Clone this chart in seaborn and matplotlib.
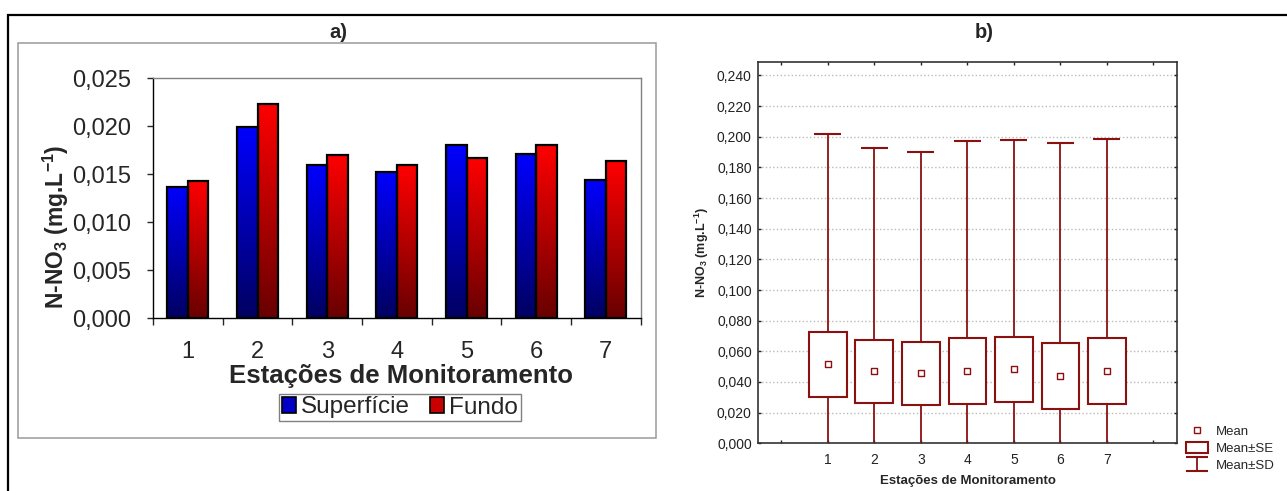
import numpy as np
import pandas as pd
import matplotlib
matplotlib.use('Agg')
import matplotlib.pyplot as plt
import seaborn as sns
from matplotlib.colors import LinearSegmentedColormap
from matplotlib.patches import Rectangle, Patch
from matplotlib.lines import Line2D
from matplotlib.ticker import FuncFormatter

# --- dados painel a) ---
estacoes = ['1', '2', '3', '4', '5', '6', '7']
camadas = ['Superfície', 'Fundo']
superficie = [0.0137, 0.0199, 0.0159, 0.0152, 0.0180, 0.0171, 0.0144]
fundo = [0.0143, 0.0223, 0.0170, 0.0159, 0.0167, 0.0180, 0.0164]

# --- dados painel b) (media, erro padrao, desvio padrao) ---
media = [0.0515, 0.0471, 0.0456, 0.0471, 0.0483, 0.0439, 0.0471]
erro_padrao = [0.0213, 0.0206, 0.0205, 0.0213, 0.0213, 0.0215, 0.0213]
desvio_padrao = [0.1502, 0.1455, 0.1448, 0.1503, 0.1497, 0.1522, 0.1514]

sns.set_style('white')
plt.rcParams['font.family'] = ['Liberation Sans', 'DejaVu Sans']
plt.rcParams['mathtext.default'] = 'regular'

W, H = 1287, 491
fig = plt.figure(figsize=(W / 100, H / 100), dpi=100)


def fx(x):
    return x / W


def fy(y):
    return 1 - y / H


virgula = FuncFormatter(lambda v, p: f'{v:.3f}'.replace('.', ','))

# moldura externa e caixa cinza do painel a)
fig.add_artist(Rectangle((fx(8.3), fy(700)), fx(1500), (700 - 15) / H, fill=False,
                         ec='black', lw=1.6, transform=fig.transFigure, clip_on=False))
fig.add_artist(Rectangle((fx(18), fy(438)), fx(656 - 18), (438 - 43) / H, fill=False,
                         ec='#9A9A9A', lw=1.1, transform=fig.transFigure))

# ---------------------------------------------------------
# a) barras com gradiente
# ---------------------------------------------------------
ax_a = fig.add_axes([fx(153), fy(318.3), fx(640.7 - 153), (318.3 - 78) / H])
df_a = pd.DataFrame({
    'estacao': estacoes * 2,
    'camada': [camadas[0]] * len(estacoes) + [camadas[1]] * len(estacoes),
    'valor': superficie + fundo,
})
sns.barplot(data=df_a, x='estacao', y='valor', hue='camada', palette=['#0000C0', '#C00000'],
            width=0.585, edgecolor='black', linewidth=1.6, errorbar=None, legend=False,
            saturation=1, ax=ax_a)

cmap_azul = LinearSegmentedColormap.from_list('azul', ['#000060', '#0000FF'])
cmap_verm = LinearSegmentedColormap.from_list('verm', ['#680000', '#FF0000'])
grad = np.linspace(0, 1, 256).reshape(-1, 1)
for cont, cm in zip(ax_a.containers, [cmap_azul, cmap_verm]):
    for bar in cont:
        x0, y0 = bar.get_x(), bar.get_y()
        w, h = bar.get_width(), bar.get_height()
        ax_a.imshow(grad, cmap=cm, extent=[x0, x0 + w, y0, y0 + h], origin='lower',
                    aspect='auto', zorder=2.5)
        bar.set_facecolor('none')
        bar.set_zorder(3)

ax_a.set_xlim(-0.5, 6.5)
ax_a.set_ylim(0, 0.025)
ax_a.set_yticks(np.arange(0, 0.0251, 0.005))
ax_a.yaxis.set_major_formatter(virgula)
ax_a.set_xticks(np.arange(-0.5, 7, 1), minor=True)
ax_a.tick_params(axis='y', direction='out', length=4.5, width=1, pad=11, labelsize=17, left=True)
ax_a.tick_params(axis='x', which='major', length=0, pad=16, labelsize=17)
ax_a.tick_params(axis='x', which='minor', direction='out', length=5, width=1, bottom=True)
for s in ['top', 'right']:
    ax_a.spines[s].set_color('#808080')
    ax_a.spines[s].set_linewidth(1)
for s in ['left', 'bottom']:
    ax_a.spines[s].set_color('black')
    ax_a.spines[s].set_linewidth(1)
ax_a.set_xlabel('Estações de Monitoramento', fontsize=18.5, fontweight='bold')
ax_a.xaxis.set_label_coords(0.508, -0.19)
ax_a.set_ylabel(r'N-NO$_3$ (mg.L$^{-1}$)', fontsize=16.5, fontweight='bold')
ax_a.yaxis.set_label_coords(-0.168, 0.38)

handles_a = [Patch(facecolor='#0000C8', edgecolor='black', lw=1.2),
             Patch(facecolor='#C80000', edgecolor='black', lw=1.2)]
leg_a = fig.legend(handles_a, camadas, loc='center', bbox_to_anchor=(fx(400), fy(407.5)),
                   ncol=2, frameon=True, fancybox=False, edgecolor='#808080', framealpha=1,
                   fontsize=17.5, handlelength=0.6, handleheight=0.6, handletextpad=0.2,
                   columnspacing=0.8, borderpad=0.12, borderaxespad=0)
leg_a.get_frame().set_linewidth(1)

fig.text(fx(338), fy(32), 'a)', ha='center', va='center', fontsize=14.5, fontweight='bold')

# ---------------------------------------------------------
# b) media, media±EP e media±DP
# ---------------------------------------------------------
verm_escuro = '#8B1010'
ax_b = fig.add_axes([fx(758), fy(443.3), fx(1176.7 - 758), (443.3 - 61.7) / H])
pos = np.arange(1, len(estacoes) + 1)
m = np.array(media)
se = np.array(erro_padrao)
sd = np.array(desvio_padrao)

ax_b.vlines(pos, m + se, m + sd, color=verm_escuro, lw=1.3, zorder=2)
ax_b.vlines(pos, m - sd, m - se, color=verm_escuro, lw=1.3, zorder=2)
ax_b.hlines(m + sd, pos - 0.29, pos + 0.29, color=verm_escuro, lw=1.5, zorder=2)
ax_b.hlines(m - sd, pos - 0.29, pos + 0.29, color=verm_escuro, lw=1.5, zorder=2)
ax_b.bar(pos, 2 * se, bottom=m - se, width=0.81, facecolor='white', edgecolor=verm_escuro,
         linewidth=1.5, zorder=3)
sns.scatterplot(x=pos, y=m, marker='s', s=15, color='white', edgecolor=verm_escuro,
                linewidth=1, zorder=4, ax=ax_b)

ax_b.set_xlim(-0.5, 8.5)
ax_b.set_ylim(0, 0.249)
ax_b.set_xticks(np.arange(0, 9))
ax_b.set_xticklabels([''] + estacoes + [''])
ax_b.set_yticks(np.arange(0, 0.241, 0.02))
ax_b.yaxis.set_major_formatter(virgula)
ax_b.tick_params(direction='in', length=2.5, width=1, top=True, right=True, left=True,
                 bottom=True, labelsize=10, colors='#222222')
ax_b.tick_params(axis='x', pad=7)
ax_b.tick_params(axis='y', pad=4.5)
ax_b.grid(axis='y', color='#BBBBBB', ls=':', lw=1)
ax_b.grid(axis='x', visible=False)
ax_b.set_axisbelow(True)
for s in ax_b.spines.values():
    s.set_color('#333333')
    s.set_linewidth(1.2)
ax_b.set_xlabel('Estações de Monitoramento', fontsize=9.5, fontweight='bold')
ax_b.xaxis.set_label_coords(0.5016, -0.084)
ax_b.set_ylabel(r'N-NO$_3$ (mg.L$^{-1}$)', fontsize=9, fontweight='bold')
ax_b.yaxis.set_label_coords(-0.112, 0.4987)

eb = ax_b.errorbar([np.nan], [np.nan], yerr=[np.nan], fmt='none', ecolor=verm_escuro,
                   elinewidth=1.3, capsize=8, capthick=1.5)
handles_b = [Line2D([], [], marker='s', ls='none', mfc='white', mec=verm_escuro, ms=3.8, mew=1),
             Patch(facecolor='white', edgecolor=verm_escuro, lw=1.5),
             eb]
fig.legend(handles_b, ['Mean', 'Mean±SE', 'Mean±SD'], loc='upper left',
           bbox_to_anchor=(fx(1186), fy(425)), frameon=False, fontsize=9.5,
           handlelength=1.7, handleheight=0.95, handletextpad=0.53, labelspacing=0.28,
           borderpad=0, borderaxespad=0)

fig.text(fx(984.5), fy(32), 'b)', ha='center', va='center', fontsize=14.5, fontweight='bold')

fig.savefig('out.png', dpi=100)
plt.close(fig)
